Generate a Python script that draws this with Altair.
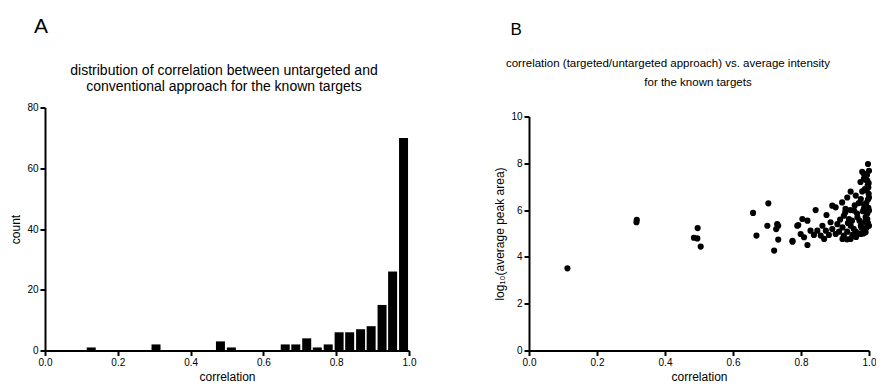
import altair as alt
import pandas as pd

FONT = "Liberation Sans"

# ---- Panel A: histogram of correlation (bin centres and counts) ----
bin_centers = [0.127, 0.305, 0.482, 0.512, 0.660, 0.689, 0.719, 0.748, 0.778,
               0.808, 0.837, 0.867, 0.896, 0.926, 0.955, 0.985]
bin_counts = [1, 2, 3, 1, 2, 2, 4, 1, 2, 6, 6, 7, 8, 15, 26, 70]

# ---- Panel B: correlation vs log10(average peak area) ----
corr = [0.113, 0.317, 0.316, 0.485, 0.495, 0.496, 0.505,
        0.659, 0.669, 0.704, 0.701, 0.730, 0.727, 0.733, 0.733, 0.721, 0.775, 0.792,
        0.997, 1.000, 0.980, 0.985, 0.995, 0.998, 0.988, 0.946, 0.936, 0.921, 0.961,
        0.976, 1.000, 0.892, 0.902, 0.931, 0.956, 0.985, 1.000, 0.843, 0.875, 0.926,
        0.941, 0.966, 0.995, 0.804, 0.819, 0.789, 0.887, 0.863, 0.907, 0.922, 0.946,
        0.976, 1.000, 0.828, 0.848, 0.873, 0.892, 0.912, 0.936, 0.961, 0.985, 0.799,
        0.838, 0.858, 0.882, 0.902, 0.926, 0.951, 0.976, 0.775, 0.809, 0.868, 0.946,
        0.819, 0.922,
        0.990, 0.993, 0.997, 0.990, 0.995, 0.998, 0.992, 0.997, 0.999, 0.993, 0.996,
        0.999, 0.990, 0.994, 0.985, 0.975, 0.980, 0.970, 0.965, 0.972, 0.978, 0.983,
        0.955, 0.950, 0.958, 0.945, 0.938, 0.930, 0.915, 0.962, 0.935, 0.970, 0.985,
        0.982, 0.988]
log_area = [3.51, 5.58, 5.48, 4.82, 4.79, 5.23, 4.44,
            5.88, 4.91, 6.29, 5.33, 5.40, 5.19, 5.33, 4.74, 4.27, 4.65, 5.36,
            7.97, 7.68, 7.64, 7.35, 7.26, 6.97, 6.90, 6.79, 6.54, 6.33, 6.62,
            6.47, 6.54, 6.19, 6.12, 6.05, 5.98, 6.05, 5.98, 6.00, 5.79, 5.76,
            5.62, 5.69, 5.62, 5.62, 5.55, 5.33, 5.48, 5.33, 5.40, 5.26, 5.33,
            5.33, 5.33, 5.12, 5.12, 5.12, 5.19, 5.08, 5.08, 5.08, 5.12, 4.98,
            4.94, 4.91, 4.94, 4.98, 4.91, 4.94, 4.98, 4.69, 4.84, 4.77, 4.77,
            4.51, 4.77,
            5.05, 5.25, 5.45, 5.70, 5.85, 6.10, 6.30, 6.45, 6.70, 6.85, 7.05,
            7.15, 7.30, 7.50, 7.55, 7.20, 6.80, 6.30, 5.85, 5.55, 5.25, 5.00,
            5.20, 5.55, 6.20, 6.00, 5.45, 5.90, 5.60, 4.85, 4.75, 5.00, 6.25,
            5.95, 5.50]

x_ticks = [0.0, 0.2, 0.4, 0.6, 0.8, 1.0]
count_ticks = [0, 20, 40, 60, 80]
area_ticks = [0, 2, 4, 6, 8, 10]

title_A = ["distribution of correlation between untargeted and",
           "conventional approach for the known targets"]
title_B = ["correlation (targeted/untargeted approach) vs. average intensity",
           "for the known targets"]


def make_axis(title, values, fmt):
    return alt.Axis(title=title, values=values, format=fmt, grid=False,
                    domainColor="black", domainWidth=2, tickColor="black",
                    tickWidth=2, tickSize=5, labelFont=FONT, labelFontSize=10,
                    labelColor="black", labelPadding=2, titleFont=FONT,
                    titleFontSize=12, titleFontWeight="normal",
                    titleColor="black", titlePadding=4, labelFlush=False)


def label(text, x, y, size, align="center"):
    return alt.Chart(pd.DataFrame({"t": [text]})).mark_text(
        align=align, baseline="top", fontSize=size, font=FONT, color="black"
    ).encode(text="t:N", x=alt.value(x), y=alt.value(y))


hist_df = pd.DataFrame({"correlation": bin_centers, "count": bin_counts})
scat_df = pd.DataFrame({"correlation": corr, "logarea": log_area})

bars = alt.Chart(hist_df).mark_bar(color="black", size=9).encode(
    x=alt.X("correlation:Q",
            scale=alt.Scale(domain=[0, 1], nice=False, zero=False, padding=0),
            axis=make_axis("correlation", x_ticks, ".1f")),
    y=alt.Y("count:Q", scale=alt.Scale(domain=[0, 80], nice=False, padding=0),
            axis=make_axis("count", count_ticks, "d")),
)

panel_A = alt.layer(
    bars,
    label("A", -11, -91.5, 21, "left"),
    label(title_A[0], 179, -44, 14),
    label(title_A[1], 179, -28, 14),
).properties(width=364, height=243)

points = alt.Chart(scat_df).mark_circle(color="black", opacity=1, size=38).encode(
    x=alt.X("correlation:Q", scale=alt.Scale(domain=[0, 1], nice=False, zero=False),
            axis=make_axis("correlation", x_ticks, ".1f")),
    y=alt.Y("logarea:Q", scale=alt.Scale(domain=[0, 10], range=[243, 9], nice=False),
            axis=make_axis("log₁₀(average peak area)", area_ticks, "d")),
)

panel_B = alt.layer(
    points,
    label("B", -18.5, -85.3, 17, "left"),
    label(title_B[0], 139, -49.4, 11.5),
    label(title_B[1], 169, -30.1, 11.5),
).properties(width=340, height=243)

chart = alt.hconcat(panel_A, panel_B, spacing=77).properties(
    padding={"left": 9, "top": 15.5, "right": 0, "bottom": 0},
    background="white",
).configure_view(stroke=None)

chart.save("out.html", embed_options={"renderer": "svg", "actions": False})
